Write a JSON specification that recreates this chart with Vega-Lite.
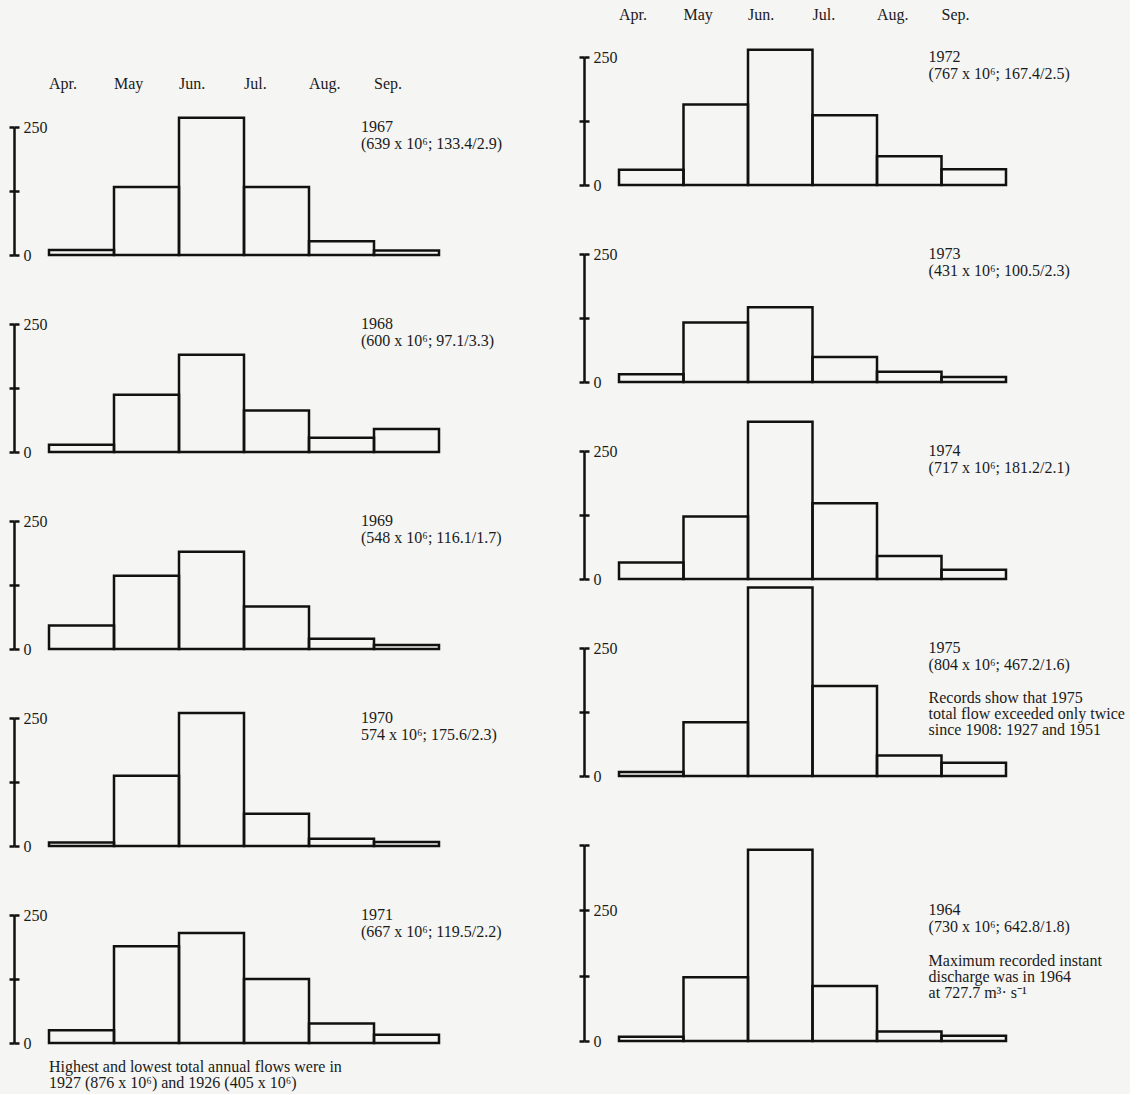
{
  "$schema": "https://vega.github.io/schema/vega-lite/v6.json",
  "background": "#f5f5f3",
  "padding": {"left": 7, "top": 7, "right": 5, "bottom": 3},
  "config": {
    "view": {"stroke": null},
    "font": "Liberation Serif",
    "text": {"font": "Liberation Serif", "fontSize": 16, "color": "#1a1a1a"}
  },
  "datasets": {
    "months": [
      {"month": "Apr."}, {"month": "May"}, {"month": "Jun."}, {"month": "Jul."}, {"month": "Aug."}, {"month": "Sep."}
    ],
    "flows": [
      {"year": "1967", "month": "Apr.", "flow": 10}, {"year": "1967", "month": "May", "flow": 133}, {"year": "1967", "month": "Jun.", "flow": 268},
      {"year": "1967", "month": "Jul.", "flow": 133}, {"year": "1967", "month": "Aug.", "flow": 27}, {"year": "1967", "month": "Sep.", "flow": 9},
      {"year": "1968", "month": "Apr.", "flow": 14}, {"year": "1968", "month": "May", "flow": 112}, {"year": "1968", "month": "Jun.", "flow": 190},
      {"year": "1968", "month": "Jul.", "flow": 81}, {"year": "1968", "month": "Aug.", "flow": 28}, {"year": "1968", "month": "Sep.", "flow": 45},
      {"year": "1969", "month": "Apr.", "flow": 46}, {"year": "1969", "month": "May", "flow": 143}, {"year": "1969", "month": "Jun.", "flow": 190},
      {"year": "1969", "month": "Jul.", "flow": 83}, {"year": "1969", "month": "Aug.", "flow": 20}, {"year": "1969", "month": "Sep.", "flow": 8},
      {"year": "1970", "month": "Apr.", "flow": 7}, {"year": "1970", "month": "May", "flow": 137}, {"year": "1970", "month": "Jun.", "flow": 260},
      {"year": "1970", "month": "Jul.", "flow": 63}, {"year": "1970", "month": "Aug.", "flow": 14}, {"year": "1970", "month": "Sep.", "flow": 8},
      {"year": "1971", "month": "Apr.", "flow": 25}, {"year": "1971", "month": "May", "flow": 189}, {"year": "1971", "month": "Jun.", "flow": 215},
      {"year": "1971", "month": "Jul.", "flow": 125}, {"year": "1971", "month": "Aug.", "flow": 38}, {"year": "1971", "month": "Sep.", "flow": 16},
      {"year": "1972", "month": "Apr.", "flow": 30}, {"year": "1972", "month": "May", "flow": 157}, {"year": "1972", "month": "Jun.", "flow": 264},
      {"year": "1972", "month": "Jul.", "flow": 136}, {"year": "1972", "month": "Aug.", "flow": 56}, {"year": "1972", "month": "Sep.", "flow": 31},
      {"year": "1973", "month": "Apr.", "flow": 15}, {"year": "1973", "month": "May", "flow": 116}, {"year": "1973", "month": "Jun.", "flow": 146},
      {"year": "1973", "month": "Jul.", "flow": 49}, {"year": "1973", "month": "Aug.", "flow": 20}, {"year": "1973", "month": "Sep.", "flow": 10},
      {"year": "1974", "month": "Apr.", "flow": 32}, {"year": "1974", "month": "May", "flow": 122}, {"year": "1974", "month": "Jun.", "flow": 307},
      {"year": "1974", "month": "Jul.", "flow": 148}, {"year": "1974", "month": "Aug.", "flow": 45}, {"year": "1974", "month": "Sep.", "flow": 18},
      {"year": "1975", "month": "Apr.", "flow": 8}, {"year": "1975", "month": "May", "flow": 105}, {"year": "1975", "month": "Jun.", "flow": 368},
      {"year": "1975", "month": "Jul.", "flow": 176}, {"year": "1975", "month": "Aug.", "flow": 40}, {"year": "1975", "month": "Sep.", "flow": 26},
      {"year": "1964", "month": "Apr.", "flow": 8}, {"year": "1964", "month": "May", "flow": 122}, {"year": "1964", "month": "Jun.", "flow": 366},
      {"year": "1964", "month": "Jul.", "flow": 105}, {"year": "1964", "month": "Aug.", "flow": 18}, {"year": "1964", "month": "Sep.", "flow": 10}
    ],
    "notes": [
      {"year": "1967", "note": "1967\n(639 x 10⁶; 133.4/2.9)"},
      {"year": "1968", "note": "1968\n(600 x 10⁶; 97.1/3.3)"},
      {"year": "1969", "note": "1969\n(548 x 10⁶; 116.1/1.7)"},
      {"year": "1970", "note": "1970\n574 x 10⁶; 175.6/2.3)"},
      {"year": "1971", "note": "1971\n(667 x 10⁶; 119.5/2.2)"},
      {"year": "1972", "note": "1972\n(767 x 10⁶; 167.4/2.5)"},
      {"year": "1973", "note": "1973\n(431 x 10⁶; 100.5/2.3)"},
      {"year": "1974", "note": "1974\n(717 x 10⁶; 181.2/2.1)"},
      {"year": "1975", "note": "1975\n(804 x 10⁶; 467.2/1.6)"},
      {"year": "1964", "note": "1964\n(730 x 10⁶; 642.8/1.8)"}
    ],
    "remarks": [
      {"year": "1975", "note": "Records show that 1975\ntotal flow exceeded only twice\nsince 1908: 1927 and 1951"},
      {"year": "1964", "note": "Maximum recorded instant\ndischarge was in 1964\nat 727.7 m³· s⁻¹"}
    ],
    "footnote": [
      {"note": "Highest and lowest total annual flows were in\n1927 (876 x 10⁶) and 1926 (405 x 10⁶)"}
    ]
  },
  "spacing": 74,
  "hconcat": [
    {
      "bounds": "flush",
      "spacing": 69,
      "vconcat": [
        {
          "width": 390, "height": 1,
          "data": {"values": [{}]},
          "mark": {"type": "rect", "fill": "#f5f5f3", "strokeWidth": 0},
          "encoding": {"x": {"value": 0}, "x2": {"value": "width"}, "y": {"value": 0}, "y2": {"value": "height"}}
        },
        {
          "width": 390, "height": 128,
          "layer": [
            {
              "data": {"name": "flows"}, "transform": [{"filter": "datum.year == '1967'"}],
              "mark": {"type": "bar", "filled": false, "stroke": "#111", "strokeWidth": 2.5, "clip": false},
              "encoding": {
                "x": {"field": "month", "type": "ordinal", "scale": {"domain": ["Apr.", "May", "Jun.", "Jul.", "Aug.", "Sep."], "paddingInner": 0, "paddingOuter": 0}, "axis": null},
                "y": {"field": "flow", "type": "quantitative", "scale": {"domain": [0, 250], "nice": false},
                      "axis": {"orient": "left", "offset": 35, "values": [0, 125, 250], "labelExpr": "datum.value == 125 ? '' : datum.label", "tickSize": 5, "tickWidth": 2.5, "tickColor": "#111", "domainWidth": 2.5, "domainColor": "#111", "labelAlign": "left", "labelBaseline": "middle", "labelPadding": -14, "labelFont": "Liberation Serif", "labelFontSize": 16, "labelColor": "#1a1a1a", "labelFlush": false, "labelOverlap": false, "grid": false, "title": null}}
              }
            },
            {
              "data": {"name": "months"},
              "mark": {"type": "text", "align": "left", "baseline": "middle"},
              "encoding": {
                "x": {"field": "month", "type": "ordinal", "bandPosition": 0, "scale": {"domain": ["Apr.", "May", "Jun.", "Jul.", "Aug.", "Sep."], "paddingInner": 0, "paddingOuter": 0}, "axis": null},
                "y": {"datum": 334, "type": "quantitative", "scale": {"domain": [0, 250], "nice": false}, "axis": null},
                "text": {"field": "month"}
              }
            },
            {
              "data": {"name": "notes"}, "transform": [{"filter": "datum.year == '1967'"}],
              "mark": {"type": "text", "align": "left", "baseline": "top", "lineBreak": "\n", "lineHeight": 17},
              "encoding": {
                "x": {"datum": "Aug.", "type": "ordinal", "bandPosition": 0.8, "scale": {"domain": ["Apr.", "May", "Jun.", "Jul.", "Aug.", "Sep."], "paddingInner": 0, "paddingOuter": 0}, "axis": null},
                "y": {"datum": 265, "type": "quantitative", "scale": {"domain": [0, 250], "nice": false},
                      "axis": {"orient": "left", "offset": 35, "values": [0, 125, 250], "tickSize": -5, "tickWidth": 2.5, "tickColor": "#111", "domain": false, "labels": false, "grid": false, "title": null}},
                "text": {"field": "note"}
              }
            }
          ],
          "resolve": {"axis": {"y": "independent"}}
        },
        {
          "width": 390, "height": 128,
          "layer": [
            {
              "data": {"name": "flows"}, "transform": [{"filter": "datum.year == '1968'"}],
              "mark": {"type": "bar", "filled": false, "stroke": "#111", "strokeWidth": 2.5, "clip": false},
              "encoding": {
                "x": {"field": "month", "type": "ordinal", "scale": {"domain": ["Apr.", "May", "Jun.", "Jul.", "Aug.", "Sep."], "paddingInner": 0, "paddingOuter": 0}, "axis": null},
                "y": {"field": "flow", "type": "quantitative", "scale": {"domain": [0, 250], "nice": false},
                      "axis": {"orient": "left", "offset": 35, "values": [0, 125, 250], "labelExpr": "datum.value == 125 ? '' : datum.label", "tickSize": 5, "tickWidth": 2.5, "tickColor": "#111", "domainWidth": 2.5, "domainColor": "#111", "labelAlign": "left", "labelBaseline": "middle", "labelPadding": -14, "labelFont": "Liberation Serif", "labelFontSize": 16, "labelColor": "#1a1a1a", "labelFlush": false, "labelOverlap": false, "grid": false, "title": null}}
              }
            },
            {
              "data": {"name": "notes"}, "transform": [{"filter": "datum.year == '1968'"}],
              "mark": {"type": "text", "align": "left", "baseline": "top", "lineBreak": "\n", "lineHeight": 17},
              "encoding": {
                "x": {"datum": "Aug.", "type": "ordinal", "bandPosition": 0.8, "scale": {"domain": ["Apr.", "May", "Jun.", "Jul.", "Aug.", "Sep."], "paddingInner": 0, "paddingOuter": 0}, "axis": null},
                "y": {"datum": 265, "type": "quantitative", "scale": {"domain": [0, 250], "nice": false},
                      "axis": {"orient": "left", "offset": 35, "values": [0, 125, 250], "tickSize": -5, "tickWidth": 2.5, "tickColor": "#111", "domain": false, "labels": false, "grid": false, "title": null}},
                "text": {"field": "note"}
              }
            }
          ],
          "resolve": {"axis": {"y": "independent"}}
        },
        {
          "width": 390, "height": 128,
          "layer": [
            {
              "data": {"name": "flows"}, "transform": [{"filter": "datum.year == '1969'"}],
              "mark": {"type": "bar", "filled": false, "stroke": "#111", "strokeWidth": 2.5, "clip": false},
              "encoding": {
                "x": {"field": "month", "type": "ordinal", "scale": {"domain": ["Apr.", "May", "Jun.", "Jul.", "Aug.", "Sep."], "paddingInner": 0, "paddingOuter": 0}, "axis": null},
                "y": {"field": "flow", "type": "quantitative", "scale": {"domain": [0, 250], "nice": false},
                      "axis": {"orient": "left", "offset": 35, "values": [0, 125, 250], "labelExpr": "datum.value == 125 ? '' : datum.label", "tickSize": 5, "tickWidth": 2.5, "tickColor": "#111", "domainWidth": 2.5, "domainColor": "#111", "labelAlign": "left", "labelBaseline": "middle", "labelPadding": -14, "labelFont": "Liberation Serif", "labelFontSize": 16, "labelColor": "#1a1a1a", "labelFlush": false, "labelOverlap": false, "grid": false, "title": null}}
              }
            },
            {
              "data": {"name": "notes"}, "transform": [{"filter": "datum.year == '1969'"}],
              "mark": {"type": "text", "align": "left", "baseline": "top", "lineBreak": "\n", "lineHeight": 17},
              "encoding": {
                "x": {"datum": "Aug.", "type": "ordinal", "bandPosition": 0.8, "scale": {"domain": ["Apr.", "May", "Jun.", "Jul.", "Aug.", "Sep."], "paddingInner": 0, "paddingOuter": 0}, "axis": null},
                "y": {"datum": 265, "type": "quantitative", "scale": {"domain": [0, 250], "nice": false},
                      "axis": {"orient": "left", "offset": 35, "values": [0, 125, 250], "tickSize": -5, "tickWidth": 2.5, "tickColor": "#111", "domain": false, "labels": false, "grid": false, "title": null}},
                "text": {"field": "note"}
              }
            }
          ],
          "resolve": {"axis": {"y": "independent"}}
        },
        {
          "width": 390, "height": 128,
          "layer": [
            {
              "data": {"name": "flows"}, "transform": [{"filter": "datum.year == '1970'"}],
              "mark": {"type": "bar", "filled": false, "stroke": "#111", "strokeWidth": 2.5, "clip": false},
              "encoding": {
                "x": {"field": "month", "type": "ordinal", "scale": {"domain": ["Apr.", "May", "Jun.", "Jul.", "Aug.", "Sep."], "paddingInner": 0, "paddingOuter": 0}, "axis": null},
                "y": {"field": "flow", "type": "quantitative", "scale": {"domain": [0, 250], "nice": false},
                      "axis": {"orient": "left", "offset": 35, "values": [0, 125, 250], "labelExpr": "datum.value == 125 ? '' : datum.label", "tickSize": 5, "tickWidth": 2.5, "tickColor": "#111", "domainWidth": 2.5, "domainColor": "#111", "labelAlign": "left", "labelBaseline": "middle", "labelPadding": -14, "labelFont": "Liberation Serif", "labelFontSize": 16, "labelColor": "#1a1a1a", "labelFlush": false, "labelOverlap": false, "grid": false, "title": null}}
              }
            },
            {
              "data": {"name": "notes"}, "transform": [{"filter": "datum.year == '1970'"}],
              "mark": {"type": "text", "align": "left", "baseline": "top", "lineBreak": "\n", "lineHeight": 17},
              "encoding": {
                "x": {"datum": "Aug.", "type": "ordinal", "bandPosition": 0.8, "scale": {"domain": ["Apr.", "May", "Jun.", "Jul.", "Aug.", "Sep."], "paddingInner": 0, "paddingOuter": 0}, "axis": null},
                "y": {"datum": 265, "type": "quantitative", "scale": {"domain": [0, 250], "nice": false},
                      "axis": {"orient": "left", "offset": 35, "values": [0, 125, 250], "tickSize": -5, "tickWidth": 2.5, "tickColor": "#111", "domain": false, "labels": false, "grid": false, "title": null}},
                "text": {"field": "note"}
              }
            }
          ],
          "resolve": {"axis": {"y": "independent"}}
        },
        {
          "width": 390, "height": 128,
          "layer": [
            {
              "data": {"name": "flows"}, "transform": [{"filter": "datum.year == '1971'"}],
              "mark": {"type": "bar", "filled": false, "stroke": "#111", "strokeWidth": 2.5, "clip": false},
              "encoding": {
                "x": {"field": "month", "type": "ordinal", "scale": {"domain": ["Apr.", "May", "Jun.", "Jul.", "Aug.", "Sep."], "paddingInner": 0, "paddingOuter": 0}, "axis": null},
                "y": {"field": "flow", "type": "quantitative", "scale": {"domain": [0, 250], "nice": false},
                      "axis": {"orient": "left", "offset": 35, "values": [0, 125, 250], "labelExpr": "datum.value == 125 ? '' : datum.label", "tickSize": 5, "tickWidth": 2.5, "tickColor": "#111", "domainWidth": 2.5, "domainColor": "#111", "labelAlign": "left", "labelBaseline": "middle", "labelPadding": -14, "labelFont": "Liberation Serif", "labelFontSize": 16, "labelColor": "#1a1a1a", "labelFlush": false, "labelOverlap": false, "grid": false, "title": null}}
              }
            },
            {
              "data": {"name": "notes"}, "transform": [{"filter": "datum.year == '1971'"}],
              "mark": {"type": "text", "align": "left", "baseline": "top", "lineBreak": "\n", "lineHeight": 17},
              "encoding": {
                "x": {"datum": "Aug.", "type": "ordinal", "bandPosition": 0.8, "scale": {"domain": ["Apr.", "May", "Jun.", "Jul.", "Aug.", "Sep."], "paddingInner": 0, "paddingOuter": 0}, "axis": null},
                "y": {"datum": 265, "type": "quantitative", "scale": {"domain": [0, 250], "nice": false},
                      "axis": {"orient": "left", "offset": 35, "values": [0, 125, 250], "tickSize": -5, "tickWidth": 2.5, "tickColor": "#111", "domain": false, "labels": false, "grid": false, "title": null}},
                "text": {"field": "note"}
              }
            },
            {
              "data": {"name": "footnote"},
              "mark": {"type": "text", "align": "left", "baseline": "top", "lineBreak": "\n", "lineHeight": 15.5},
              "encoding": {
                "x": {"datum": "Apr.", "type": "ordinal", "bandPosition": 0, "scale": {"domain": ["Apr.", "May", "Jun.", "Jul.", "Aug.", "Sep."], "paddingInner": 0, "paddingOuter": 0}, "axis": null},
                "y": {"datum": -32, "type": "quantitative", "scale": {"domain": [0, 250], "nice": false}, "axis": null},
                "text": {"field": "note"}
              }
            }
          ],
          "resolve": {"axis": {"y": "independent"}}
        }
      ]
    },
    {
      "bounds": "flush",
      "spacing": 69,
      "vconcat": [
        {
          "width": 387, "height": 128,
          "layer": [
            {
              "data": {"name": "flows"}, "transform": [{"filter": "datum.year == '1972'"}],
              "mark": {"type": "bar", "filled": false, "stroke": "#111", "strokeWidth": 2.5, "clip": false},
              "encoding": {
                "x": {"field": "month", "type": "ordinal", "scale": {"domain": ["Apr.", "May", "Jun.", "Jul.", "Aug.", "Sep."], "paddingInner": 0, "paddingOuter": 0}, "axis": null},
                "y": {"field": "flow", "type": "quantitative", "scale": {"domain": [0, 250], "nice": false},
                      "axis": {"orient": "left", "offset": 35, "values": [0, 125, 250], "labelExpr": "datum.value == 125 ? '' : datum.label", "tickSize": 5, "tickWidth": 2.5, "tickColor": "#111", "domainWidth": 2.5, "domainColor": "#111", "labelAlign": "left", "labelBaseline": "middle", "labelPadding": -14, "labelFont": "Liberation Serif", "labelFontSize": 16, "labelColor": "#1a1a1a", "labelFlush": false, "labelOverlap": false, "grid": false, "title": null}}
              }
            },
            {
              "data": {"name": "months"},
              "mark": {"type": "text", "align": "left", "baseline": "middle"},
              "encoding": {
                "x": {"field": "month", "type": "ordinal", "bandPosition": 0, "scale": {"domain": ["Apr.", "May", "Jun.", "Jul.", "Aug.", "Sep."], "paddingInner": 0, "paddingOuter": 0}, "axis": null},
                "y": {"datum": 332, "type": "quantitative", "scale": {"domain": [0, 250], "nice": false}, "axis": null},
                "text": {"field": "month"}
              }
            },
            {
              "data": {"name": "notes"}, "transform": [{"filter": "datum.year == '1972'"}],
              "mark": {"type": "text", "align": "left", "baseline": "top", "lineBreak": "\n", "lineHeight": 17},
              "encoding": {
                "x": {"datum": "Aug.", "type": "ordinal", "bandPosition": 0.8, "scale": {"domain": ["Apr.", "May", "Jun.", "Jul.", "Aug.", "Sep."], "paddingInner": 0, "paddingOuter": 0}, "axis": null},
                "y": {"datum": 265, "type": "quantitative", "scale": {"domain": [0, 250], "nice": false},
                      "axis": {"orient": "left", "offset": 35, "values": [0, 125, 250], "tickSize": -5, "tickWidth": 2.5, "tickColor": "#111", "domain": false, "labels": false, "grid": false, "title": null}},
                "text": {"field": "note"}
              }
            }
          ],
          "resolve": {"axis": {"y": "independent"}}
        },
        {
          "width": 387, "height": 128,
          "layer": [
            {
              "data": {"name": "flows"}, "transform": [{"filter": "datum.year == '1973'"}],
              "mark": {"type": "bar", "filled": false, "stroke": "#111", "strokeWidth": 2.5, "clip": false},
              "encoding": {
                "x": {"field": "month", "type": "ordinal", "scale": {"domain": ["Apr.", "May", "Jun.", "Jul.", "Aug.", "Sep."], "paddingInner": 0, "paddingOuter": 0}, "axis": null},
                "y": {"field": "flow", "type": "quantitative", "scale": {"domain": [0, 250], "nice": false},
                      "axis": {"orient": "left", "offset": 35, "values": [0, 125, 250], "labelExpr": "datum.value == 125 ? '' : datum.label", "tickSize": 5, "tickWidth": 2.5, "tickColor": "#111", "domainWidth": 2.5, "domainColor": "#111", "labelAlign": "left", "labelBaseline": "middle", "labelPadding": -14, "labelFont": "Liberation Serif", "labelFontSize": 16, "labelColor": "#1a1a1a", "labelFlush": false, "labelOverlap": false, "grid": false, "title": null}}
              }
            },
            {
              "data": {"name": "notes"}, "transform": [{"filter": "datum.year == '1973'"}],
              "mark": {"type": "text", "align": "left", "baseline": "top", "lineBreak": "\n", "lineHeight": 17},
              "encoding": {
                "x": {"datum": "Aug.", "type": "ordinal", "bandPosition": 0.8, "scale": {"domain": ["Apr.", "May", "Jun.", "Jul.", "Aug.", "Sep."], "paddingInner": 0, "paddingOuter": 0}, "axis": null},
                "y": {"datum": 265, "type": "quantitative", "scale": {"domain": [0, 250], "nice": false},
                      "axis": {"orient": "left", "offset": 35, "values": [0, 125, 250], "tickSize": -5, "tickWidth": 2.5, "tickColor": "#111", "domain": false, "labels": false, "grid": false, "title": null}},
                "text": {"field": "note"}
              }
            }
          ],
          "resolve": {"axis": {"y": "independent"}}
        },
        {
          "width": 387, "height": 128,
          "layer": [
            {
              "data": {"name": "flows"}, "transform": [{"filter": "datum.year == '1974'"}],
              "mark": {"type": "bar", "filled": false, "stroke": "#111", "strokeWidth": 2.5, "clip": false},
              "encoding": {
                "x": {"field": "month", "type": "ordinal", "scale": {"domain": ["Apr.", "May", "Jun.", "Jul.", "Aug.", "Sep."], "paddingInner": 0, "paddingOuter": 0}, "axis": null},
                "y": {"field": "flow", "type": "quantitative", "scale": {"domain": [0, 250], "nice": false},
                      "axis": {"orient": "left", "offset": 35, "values": [0, 125, 250], "labelExpr": "datum.value == 125 ? '' : datum.label", "tickSize": 5, "tickWidth": 2.5, "tickColor": "#111", "domainWidth": 2.5, "domainColor": "#111", "labelAlign": "left", "labelBaseline": "middle", "labelPadding": -14, "labelFont": "Liberation Serif", "labelFontSize": 16, "labelColor": "#1a1a1a", "labelFlush": false, "labelOverlap": false, "grid": false, "title": null}}
              }
            },
            {
              "data": {"name": "notes"}, "transform": [{"filter": "datum.year == '1974'"}],
              "mark": {"type": "text", "align": "left", "baseline": "top", "lineBreak": "\n", "lineHeight": 17},
              "encoding": {
                "x": {"datum": "Aug.", "type": "ordinal", "bandPosition": 0.8, "scale": {"domain": ["Apr.", "May", "Jun.", "Jul.", "Aug.", "Sep."], "paddingInner": 0, "paddingOuter": 0}, "axis": null},
                "y": {"datum": 265, "type": "quantitative", "scale": {"domain": [0, 250], "nice": false},
                      "axis": {"orient": "left", "offset": 35, "values": [0, 125, 250], "tickSize": -5, "tickWidth": 2.5, "tickColor": "#111", "domain": false, "labels": false, "grid": false, "title": null}},
                "text": {"field": "note"}
              }
            }
          ],
          "resolve": {"axis": {"y": "independent"}}
        },
        {
          "width": 387, "height": 128,
          "layer": [
            {
              "data": {"name": "flows"}, "transform": [{"filter": "datum.year == '1975'"}],
              "mark": {"type": "bar", "filled": false, "stroke": "#111", "strokeWidth": 2.5, "clip": false},
              "encoding": {
                "x": {"field": "month", "type": "ordinal", "scale": {"domain": ["Apr.", "May", "Jun.", "Jul.", "Aug.", "Sep."], "paddingInner": 0, "paddingOuter": 0}, "axis": null},
                "y": {"field": "flow", "type": "quantitative", "scale": {"domain": [0, 250], "nice": false},
                      "axis": {"orient": "left", "offset": 35, "values": [0, 125, 250], "labelExpr": "datum.value == 125 ? '' : datum.label", "tickSize": 5, "tickWidth": 2.5, "tickColor": "#111", "domainWidth": 2.5, "domainColor": "#111", "labelAlign": "left", "labelBaseline": "middle", "labelPadding": -14, "labelFont": "Liberation Serif", "labelFontSize": 16, "labelColor": "#1a1a1a", "labelFlush": false, "labelOverlap": false, "grid": false, "title": null}}
              }
            },
            {
              "data": {"name": "notes"}, "transform": [{"filter": "datum.year == '1975'"}],
              "mark": {"type": "text", "align": "left", "baseline": "top", "lineBreak": "\n", "lineHeight": 17},
              "encoding": {
                "x": {"datum": "Aug.", "type": "ordinal", "bandPosition": 0.8, "scale": {"domain": ["Apr.", "May", "Jun.", "Jul.", "Aug.", "Sep."], "paddingInner": 0, "paddingOuter": 0}, "axis": null},
                "y": {"datum": 265, "type": "quantitative", "scale": {"domain": [0, 250], "nice": false},
                      "axis": {"orient": "left", "offset": 35, "values": [0, 125, 250], "tickSize": -5, "tickWidth": 2.5, "tickColor": "#111", "domain": false, "labels": false, "grid": false, "title": null}},
                "text": {"field": "note"}
              }
            },
            {
              "data": {"name": "remarks"}, "transform": [{"filter": "datum.year == '1975'"}],
              "mark": {"type": "text", "align": "left", "baseline": "top", "lineBreak": "\n", "lineHeight": 16},
              "encoding": {
                "x": {"datum": "Aug.", "type": "ordinal", "bandPosition": 0.8, "scale": {"domain": ["Apr.", "May", "Jun.", "Jul.", "Aug.", "Sep."], "paddingInner": 0, "paddingOuter": 0}, "axis": null},
                "y": {"datum": 168, "type": "quantitative", "scale": {"domain": [0, 250], "nice": false}, "axis": null},
                "text": {"field": "note"}
              }
            }
          ],
          "resolve": {"axis": {"y": "independent"}}
        },
        {
          "width": 387, "height": 196,
          "layer": [
            {
              "data": {"name": "flows"}, "transform": [{"filter": "datum.year == '1964'"}],
              "mark": {"type": "bar", "filled": false, "stroke": "#111", "strokeWidth": 2.5, "clip": false},
              "encoding": {
                "x": {"field": "month", "type": "ordinal", "scale": {"domain": ["Apr.", "May", "Jun.", "Jul.", "Aug.", "Sep."], "paddingInner": 0, "paddingOuter": 0}, "axis": null},
                "y": {"field": "flow", "type": "quantitative", "scale": {"domain": [0, 375], "nice": false},
                      "axis": {"orient": "left", "offset": 35, "values": [0, 125, 250, 375], "labelExpr": "datum.value == 125 || datum.value == 375 ? '' : datum.label", "tickSize": 5, "tickWidth": 2.5, "tickColor": "#111", "domainWidth": 2.5, "domainColor": "#111", "labelAlign": "left", "labelBaseline": "middle", "labelPadding": -14, "labelFont": "Liberation Serif", "labelFontSize": 16, "labelColor": "#1a1a1a", "labelFlush": false, "labelOverlap": false, "grid": false, "title": null}}
              }
            },
            {
              "data": {"name": "notes"}, "transform": [{"filter": "datum.year == '1964'"}],
              "mark": {"type": "text", "align": "left", "baseline": "top", "lineBreak": "\n", "lineHeight": 17},
              "encoding": {
                "x": {"datum": "Aug.", "type": "ordinal", "bandPosition": 0.8, "scale": {"domain": ["Apr.", "May", "Jun.", "Jul.", "Aug.", "Sep."], "paddingInner": 0, "paddingOuter": 0}, "axis": null},
                "y": {"datum": 265, "type": "quantitative", "scale": {"domain": [0, 375], "nice": false},
                      "axis": {"orient": "left", "offset": 35, "values": [0, 125, 250, 375], "tickSize": -5, "tickWidth": 2.5, "tickColor": "#111", "domain": false, "labels": false, "grid": false, "title": null}},
                "text": {"field": "note"}
              }
            },
            {
              "data": {"name": "remarks"}, "transform": [{"filter": "datum.year == '1964'"}],
              "mark": {"type": "text", "align": "left", "baseline": "top", "lineBreak": "\n", "lineHeight": 16},
              "encoding": {
                "x": {"datum": "Aug.", "type": "ordinal", "bandPosition": 0.8, "scale": {"domain": ["Apr.", "May", "Jun.", "Jul.", "Aug.", "Sep."], "paddingInner": 0, "paddingOuter": 0}, "axis": null},
                "y": {"datum": 168, "type": "quantitative", "scale": {"domain": [0, 375], "nice": false}, "axis": null},
                "text": {"field": "note"}
              }
            }
          ],
          "resolve": {"axis": {"y": "independent"}}
        }
      ]
    }
  ]
}
